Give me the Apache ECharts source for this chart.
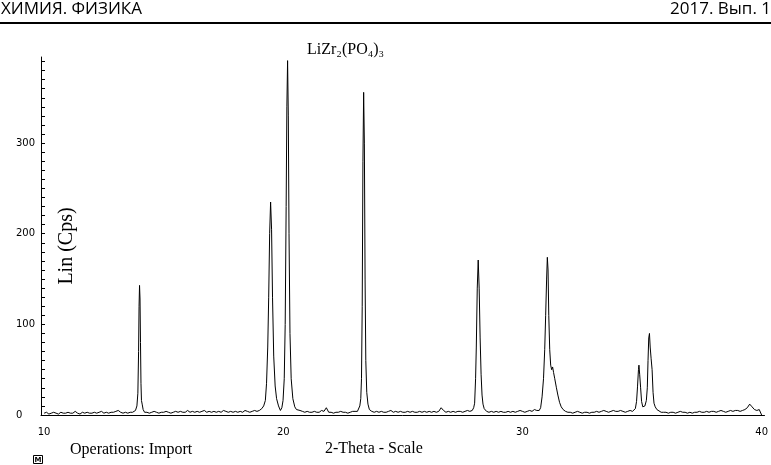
<!DOCTYPE html>
<html>
<head>
<meta charset="utf-8">
<script src="https://cdn.jsdelivr.net/npm/echarts@6/dist/echarts.min.js"></script>
<style>
  html, body { margin: 0; padding: 0; background: #fff; }
  #chart { width: 771px; height: 465px; }
</style>
</head>
<body>
<div id="chart"></div>
<script>
// tick labels
const xTickLabels = [10, 20, 30, 40];
const yTickLabels = [0, 100, 200, 300];

// background counts, 0.1 deg steps, one row per degree (x.0 .. x.9)
const bg10 = [2, 3, 1, 2, 3, 2, 1, 3, 2, 2];
const bg11 = [3, 2, 2, 4, 2, 1, 3, 2, 3, 2];
const bg12 = [2, 3, 2, 3, 4, 2, 3, 2, 3, 3];
const bg13 = [4, 5, 3, 2, 3, 2, 3, 3, 4, 3];
const bg14 = [3, 3, 3, 3, 2, 3, 4, 3, 2, 3];
const bg15 = [3, 4, 3, 2, 3, 4, 3, 4, 3, 3];
const bg16 = [5, 3, 4, 3, 4, 3, 4, 5, 3, 4];
const bg17 = [3, 4, 3, 4, 3, 5, 4, 3, 4, 3];
const bg18 = [4, 3, 4, 3, 5, 4, 3, 4, 5, 4];
const bg19 = [5, 5, 5, 5, 5, 5, 5, 5, 5, 5];
const bg20 = [5, 5, 5, 5, 5, 5, 5, 5, 4, 3];
const bg21 = [4, 3, 3, 4, 3, 3, 5, 4, 8, 3];
const bg22 = [3, 2, 3, 3, 4, 3, 3, 2, 3, 4];
const bg23 = [4, 4, 4, 4, 4, 4, 4, 4, 3, 4];
const bg24 = [3, 4, 3, 3, 4, 5, 3, 4, 3, 4];
const bg25 = [3, 3, 4, 3, 4, 3, 3, 4, 3, 4];
const bg26 = [3, 4, 3, 4, 3, 4, 8, 5, 3, 4];
const bg27 = [3, 4, 3, 4, 4, 3, 4, 5, 4, 5];
const bg28 = [5, 5, 5, 5, 5, 4, 3, 4, 3, 4];
const bg29 = [3, 4, 3, 3, 4, 3, 4, 3, 4, 5];
const bg30 = [4, 3, 4, 5, 4, 6, 5, 5, 5, 5];
const bg31 = [5, 5, 5, 5, 5, 5, 5, 5, 4, 3];
const bg32 = [3, 2, 3, 4, 3, 2, 3, 3, 2, 3];
const bg33 = [3, 4, 3, 4, 5, 4, 3, 4, 5, 4];
const bg34 = [4, 5, 4, 3, 4, 5, 4, 4, 4, 4];
const bg35 = [4, 4, 4, 4, 4, 4, 4, 4, 3, 3];
const bg36 = [3, 2, 3, 3, 2, 3, 4, 3, 3, 2];
const bg37 = [3, 2, 3, 3, 4, 3, 3, 4, 3, 4];
const bg38 = [4, 3, 4, 5, 4, 3, 4, 5, 4, 5];
const bg39 = [5, 4, 5, 6, 8, 12, 9, 6, 5, 6];
const bg40 = [0];

// peak profiles [2theta, cps]
const peak14 = [[13.75, 3], [13.82, 5], [13.88, 10], [13.92, 24], [13.95, 70], [13.97, 120],
  [13.99, 143], [14.01, 128], [14.03, 80], [14.05, 35], [14.07, 16], [14.10, 12],
  [14.14, 6], [14.20, 3], [14.25, 2]];
const peak19 = [[19.00, 5], [19.10, 7], [19.18, 10], [19.25, 16], [19.30, 35], [19.35, 75],
  [19.39, 130], [19.43, 200], [19.47, 235], [19.51, 205], [19.55, 130], [19.60, 65],
  [19.66, 32], [19.72, 18], [19.80, 10], [19.88, 5], [19.94, 8], [19.99, 16],
  [20.04, 40], [20.08, 100], [20.12, 230], [20.15, 340], [20.18, 391], [20.21, 330],
  [20.24, 200], [20.28, 90], [20.33, 40], [20.40, 18], [20.48, 9], [20.55, 6], [20.62, 5]];
const peak23 = [[23.10, 4], [23.16, 6], [23.20, 10], [23.24, 18], [23.27, 40], [23.30, 120],
  [23.33, 280], [23.36, 356], [23.39, 300], [23.42, 150], [23.45, 60], [23.49, 25],
  [23.54, 12], [23.60, 6], [23.65, 4]];
const peak28 = [[27.90, 5], [27.96, 8], [28.00, 13], [28.04, 40], [28.07, 75], [28.11, 140],
  [28.15, 171], [28.19, 140], [28.23, 85], [28.27, 45], [28.31, 22], [28.35, 12],
  [28.40, 7], [28.45, 5]];
const peak31 = [[30.70, 5], [30.76, 8], [30.82, 20], [30.88, 40], [30.93, 72], [30.97, 110],
  [31.01, 150], [31.04, 174], [31.07, 160], [31.10, 110], [31.14, 72], [31.18, 55],
  [31.22, 50], [31.26, 53], [31.30, 47], [31.35, 40], [31.42, 30], [31.48, 22],
  [31.55, 14], [31.62, 9], [31.70, 6], [31.80, 4]];
const peak35 = [[34.60, 4], [34.66, 5], [34.72, 7], [34.77, 15], [34.81, 31], [34.85, 50],
  [34.87, 55], [34.90, 45], [34.94, 30], [34.98, 15], [35.03, 9], [35.08, 8],
  [35.12, 10], [35.18, 16], [35.22, 30], [35.25, 60], [35.28, 85], [35.31, 90],
  [35.34, 75], [35.38, 62], [35.42, 50], [35.46, 25], [35.50, 13], [35.55, 9], [35.62, 6]];

const background = [bg10, bg11, bg12, bg13, bg14, bg15, bg16, bg17, bg18, bg19, bg20,
  bg21, bg22, bg23, bg24, bg25, bg26, bg27, bg28, bg29, bg30, bg31, bg32, bg33, bg34,
  bg35, bg36, bg37, bg38, bg39, bg40];
const peaks = [peak14, peak19, peak23, peak28, peak31, peak35];

const points = [];
background.forEach((row, d) => {
  row.forEach((v, k) => {
    const t = Math.round((10 + d + k / 10) * 100) / 100;
    const inPeak = peaks.some(p => t >= p[0][0] && t <= p[p.length - 1][0]);
    if (!inPeak) points.push([t, v]);
  });
});
peaks.forEach(p => p.forEach(pt => points.push(pt)));
points.sort((a, b) => a[0] - b[0]);

const yMinorTicks = [];
for (let v = 0; v <= 390; v += 10) yMinorTicks.push(v);

const chart = echarts.init(document.getElementById("chart"), null, { renderer: "canvas" });

chart.setOption({
  animation: false,
  backgroundColor: "#fff",
  grid: { left: 41, right: 6, top: 57, bottom: 50 },
  xAxis: {
    type: "value",
    min: 9.87,
    max: 40.12,
    axisLine: { lineStyle: { color: "#000", width: 1 } },
    axisTick: { show: false },
    splitLine: { show: false },
    axisLabel: {
      customValues: xTickLabels,
      color: "#000",
      fontSize: 10,
      fontFamily: "DejaVu Sans",
      margin: 12
    }
  },
  yAxis: {
    type: "value",
    min: 0,
    max: 395,
    axisLine: { show: true, lineStyle: { color: "#000", width: 1 } },
    axisTick: {
      show: true,
      inside: true,
      length: 4,
      customValues: yMinorTicks,
      lineStyle: { color: "#000" }
    },
    splitLine: { show: false },
    axisLabel: {
      customValues: yTickLabels,
      color: "#000",
      fontSize: 10,
      fontFamily: "DejaVu Sans",
      align: "left",
      margin: 25
    }
  },
  series: [{
    type: "line",
    data: points,
    showSymbol: false,
    sampling: "none",
    lineStyle: { color: "#000", width: 1 },
    z: 3
  }],
  graphic: [
    { type: "text", left: 1, top: 1, style: { text: "ХИМИЯ. ФИЗИКА", font: "17px 'Open Sans'", fill: "#000" } },
    { type: "text", right: 0, top: 1, style: { text: "2017. Вып. 1", font: "17px 'Open Sans'", fill: "#000" } },
    { type: "line", shape: { x1: 0, y1: 23, x2: 771, y2: 23 }, style: { stroke: "#000", lineWidth: 2 } },
    { type: "text", x: 307, y: 50, style: { text: "LiZr₂(PO₄)₃", font: "16px 'Liberation Serif'", fill: "#000", verticalAlign: "middle" } },
    { type: "text", x: 67, y: 246, rotation: Math.PI / 2,
      style: { text: "Lin (Cps)", font: "20px 'Liberation Serif'", fill: "#000", align: "center", verticalAlign: "middle" } },
    { type: "text", x: 70, y: 450, style: { text: "Operations: Import", font: "16px 'Liberation Serif'", fill: "#000", verticalAlign: "middle" } },
    { type: "text", x: 325, y: 449, style: { text: "2-Theta - Scale", font: "16px 'Liberation Serif'", fill: "#000", verticalAlign: "middle" } },
    { type: "rect", shape: { x: 33.5, y: 455.5, width: 9, height: 8 }, style: { fill: "#fff", stroke: "#000", lineWidth: 1 } },
    { type: "text", x: 38, y: 460, style: { text: "M", font: "bold 7px 'DejaVu Sans'", fill: "#000", align: "center", verticalAlign: "middle" } }
  ]
});
</script>
</body>
</html>
